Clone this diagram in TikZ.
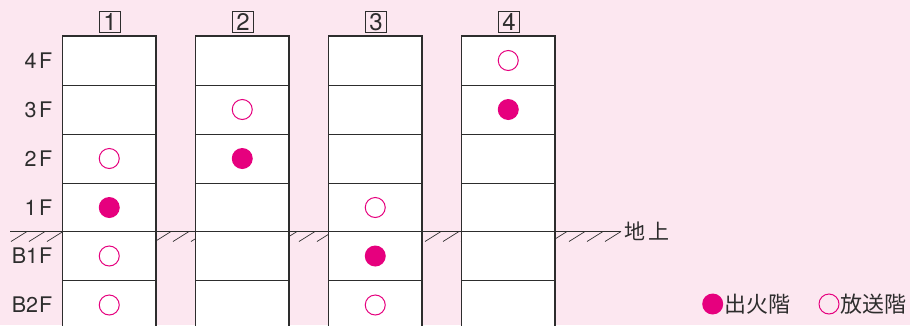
\documentclass[tikz,border=0pt]{standalone}
\usepackage{fontspec}
\setmainfont{TeX Gyre Heros}
\newfontfamily\jp{Noto Sans CJK JP}
\definecolor{bgpink}{RGB}{252,231,240}
\definecolor{mag}{RGB}{230,0,126}
\definecolor{ink}{RGB}{45,45,45}
\begin{document}
\begin{tikzpicture}[x=1pt,y=-1pt,
 bld/.style={draw=ink,line width=1.1pt,fill=white},
 floorline/.style={draw=ink,line width=1pt},
 fire/.style={circle,fill=mag,minimum size=21pt,inner sep=0pt},
 bcast/.style={circle,draw=mag,line width=1pt,fill=white,minimum size=20pt,inner sep=0pt},
 flabel/.style={anchor=east,font=\fontsize{21.5}{21.5}\selectfont,text=ink,inner sep=0pt},
 numbox/.style={draw=ink,line width=0.8pt,minimum width=21pt,minimum height=20.5pt,inner sep=0pt,font=\fontsize{24}{24}\selectfont,text=ink},
 jptext/.style={anchor=west,font=\jp\fontsize{21}{21}\selectfont,text=ink,inner sep=0pt},
 hatch/.style={draw=ink,line width=0.7pt}]
\fill[bgpink] (0,0) rectangle (910,325);
\useasboundingbox (0,0) rectangle (910,325);
\clip (0,0) rectangle (910,325);
% hatching of the ground
\foreach \k in {0,...,33}{
  \draw[hatch] ({11+18*\k},241.5) -- ({27+18*\k},231.5);
}
% buildings
\foreach \x/\n in {62.5/1,195.5/2,328.5/3,461.5/4}{
  \draw[bld] (\x,36) rectangle ({\x+93.5},335);
  \foreach \y in {85,134,183,231.5,280.5}{
    \draw[floorline] (\x,\y) -- ({\x+93.5},\y);
  }
  \node[numbox] (n\n) at ({\x+47.5},22) {\n};
}
% ground line
\coordinate (g0) at (10,231.5);
\coordinate (g1) at (621,231.5);
\draw[draw=ink,line width=1pt] (g0) -- (g1);
\node[jptext] (ground) at (624,231.5) {地\hspace{3pt}上};
% floor labels
\node[flabel] (f4) at (52.5,60.5) {4\hspace{2.5pt}F};
\node[flabel] (f3) at (52.5,109.5) {3\hspace{2.5pt}F};
\node[flabel] (f2) at (52.5,158.5) {2\hspace{2.5pt}F};
\node[flabel] (f1) at (52.5,207.5) {1\hspace{2.5pt}F};
\node[flabel] (fb1) at (52.5,256) {B1\hspace{1pt}F};
\node[flabel] (fb2) at (52.5,305) {B2\hspace{1pt}F};
% markers
\node[bcast] (a2) at (109.25,158.5) {};
\node[fire]  (a1) at (109.25,207.5) {};
\node[bcast] (ab1) at (109.25,256) {};
\node[bcast] (ab2) at (109.25,305) {};
\node[bcast] (b3) at (242.25,109.5) {};
\node[fire]  (b2) at (242.25,158.5) {};
\node[bcast] (c1) at (375.25,207.5) {};
\node[fire]  (cb1) at (375.25,256) {};
\node[bcast] (cb2) at (375.25,305) {};
\node[bcast] (d4) at (508.25,60.5) {};
\node[fire]  (d3) at (508.25,109.5) {};
% legend
\node[fire] (lf) at (712.7,304) {};
\node[jptext,font=\jp\fontsize{22}{22}\selectfont] (lft) at (724.5,304) {出火階};
\node[bcast,fill=none] (lb) at (829,304) {};
\node[jptext,font=\jp\fontsize{22}{22}\selectfont] (lbt) at (840.5,304) {放送階};
\end{tikzpicture}
\end{document}
